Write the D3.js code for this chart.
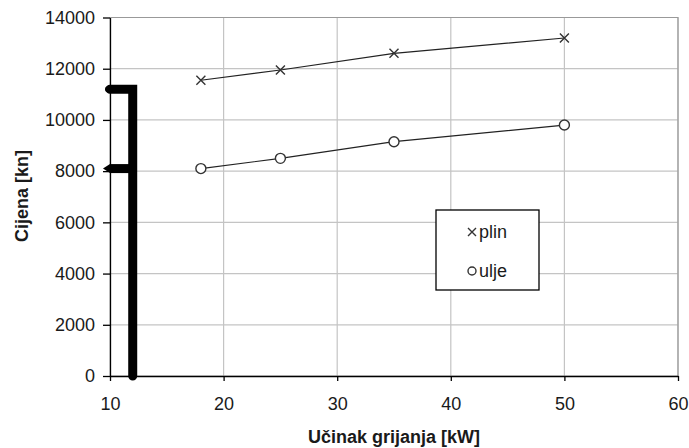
<!DOCTYPE html>
<html>
<head>
<meta charset="utf-8">
<script src="https://cdn.jsdelivr.net/npm/d3@7"></script>
<style>
  body { margin: 0; background: #fff; }
  svg { display: block; font-family: "Liberation Sans", Arial, sans-serif; }
</style>
</head>
<body>
<svg width="689" height="448"></svg>
<script>
// Chart data
var power = [18, 25, 35, 50];          // Učinak grijanja [kW]
var plin = [11550, 11950, 12600, 13200];
var ulje = [8100, 8500, 9150, 9800];
var xTicks = [10, 20, 30, 40, 50, 60];
var yTicks = [0, 2000, 4000, 6000, 8000, 10000, 12000, 14000];
// bracket annotation (thick black line) drawn in data units
var bracketX = 12, bracketTop = 11200, bracketMid = 8100;

var svg = d3.select("svg"),
    margin = {top: 17.5, right: 11, bottom: 72, left: 110},
    width = +svg.attr("width") - margin.left - margin.right,
    height = +svg.attr("height") - margin.top - margin.bottom;

var x = d3.scaleLinear().domain([10, 60]).range([0, width]),
    y = d3.scaleLinear().domain([0, 14000]).range([height, 0]);

var g = svg.append("g")
    .attr("transform", "translate(" + margin.left + "," + margin.top + ")");

// gridlines
g.selectAll(".hgrid").data(yTicks).enter().append("line")
    .attr("x1", 0).attr("x2", width)
    .attr("y1", function(d) { return y(d); }).attr("y2", function(d) { return y(d); })
    .attr("stroke", "#c4c4c4").attr("stroke-width", 1.2);
g.selectAll(".vgrid").data(xTicks).enter().append("line")
    .attr("y1", 0).attr("y2", height)
    .attr("x1", function(d) { return x(d); }).attr("x2", function(d) { return x(d); })
    .attr("stroke", "#c4c4c4").attr("stroke-width", 1.2);

// top / right border
g.append("path")
    .attr("d", "M0,0H" + width + "V" + height)
    .attr("fill", "none").attr("stroke", "#999").attr("stroke-width", 1.2);

// axes
var xAxis = g.append("g")
    .attr("transform", "translate(0," + height + ")")
    .call(d3.axisBottom(x).tickValues(xTicks).tickFormat(d3.format("d"))
        .tickSize(5).tickPadding(16).tickSizeOuter(0));
var yAxis = g.append("g")
    .call(d3.axisLeft(y).tickValues(yTicks).tickFormat(d3.format("d"))
        .tickSize(7).tickPadding(8).tickSizeOuter(0));

[xAxis, yAxis].forEach(function(a) {
    a.select(".domain").attr("stroke", "#000").attr("stroke-width", 1.3);
    a.selectAll(".tick line").attr("stroke", "#000").attr("stroke-width", 1.3);
    a.selectAll("text").attr("font-size", 18).attr("fill", "#1a1a1a")
        .attr("font-family", "'Liberation Sans', Arial, sans-serif");
});

// bracket annotation
var lineGen = d3.line().x(function(d) { return x(d[0]); }).y(function(d) { return y(d[1]); });
g.append("path")
    .attr("d", lineGen([[10, bracketTop], [bracketX, bracketTop], [bracketX, 0]]))
    .attr("fill", "none").attr("stroke", "#000").attr("stroke-width", 9)
    .attr("stroke-linejoin", "miter").attr("stroke-linecap", "round");
g.append("path")
    .attr("d", lineGen([[10, bracketMid], [bracketX, bracketMid]]))
    .attr("fill", "none").attr("stroke", "#000").attr("stroke-width", 9);
// line end decorations
g.append("circle").attr("cx", x(10) - 2).attr("cy", y(bracketTop)).attr("r", 3).attr("fill", "#000");
g.append("path")
    .attr("d", "M" + (x(10) - 7) + "," + y(bracketMid) + "L" + x(10) + "," + (y(bracketMid) - 4.5) +
          "L" + x(10) + "," + (y(bracketMid) + 4.5) + "Z")
    .attr("fill", "#000");

// series lines
function seriesLine(vals) {
    return lineGen(power.map(function(p, i) { return [p, vals[i]]; }));
}
g.append("path").attr("d", seriesLine(plin))
    .attr("fill", "none").attr("stroke", "#222").attr("stroke-width", 1.2);
g.append("path").attr("d", seriesLine(ulje))
    .attr("fill", "none").attr("stroke", "#222").attr("stroke-width", 1.2);

// markers
function cross(sel, cx, cy, s) {
    sel.append("path")
        .attr("d", "M" + (cx - s) + "," + (cy - s) + "L" + (cx + s) + "," + (cy + s) +
              "M" + (cx - s) + "," + (cy + s) + "L" + (cx + s) + "," + (cy - s))
        .attr("stroke", "#333").attr("stroke-width", 1.4).attr("fill", "none");
}
power.forEach(function(p, i) {
    cross(g, x(p), y(plin[i]), 4.5);
});
g.selectAll(".ulje").data(power).enter().append("circle")
    .attr("cx", function(d) { return x(d); })
    .attr("cy", function(d, i) { return y(ulje[i]); })
    .attr("r", 5)
    .attr("fill", "#fff").attr("stroke", "#333").attr("stroke-width", 1.4);

// legend
var leg = svg.append("g");
leg.append("rect").attr("x", 436).attr("y", 210).attr("width", 103).attr("height", 80)
    .attr("fill", "#fff").attr("stroke", "#000").attr("stroke-width", 1.3);
cross(leg, 472, 232, 4);
leg.append("circle").attr("cx", 472).attr("cy", 271).attr("r", 4)
    .attr("fill", "#fff").attr("stroke", "#333").attr("stroke-width", 1.4);
leg.append("text").attr("x", 479).attr("y", 238).attr("font-size", 18).attr("fill", "#1a1a1a").text("plin");
leg.append("text").attr("x", 479).attr("y", 277).attr("font-size", 18).attr("fill", "#1a1a1a").text("ulje");

// axis titles
svg.append("text")
    .attr("x", margin.left + width / 2).attr("y", 443)
    .attr("text-anchor", "middle").attr("font-size", 18).attr("font-weight", "bold")
    .attr("fill", "#1a1a1a").text("Učinak grijanja [kW]");
svg.append("text")
    .attr("transform", "translate(28,196) rotate(-90)")
    .attr("text-anchor", "middle").attr("font-size", 18).attr("font-weight", "bold")
    .attr("fill", "#1a1a1a").text("Cijena [kn]");
</script>
</body>
</html>
